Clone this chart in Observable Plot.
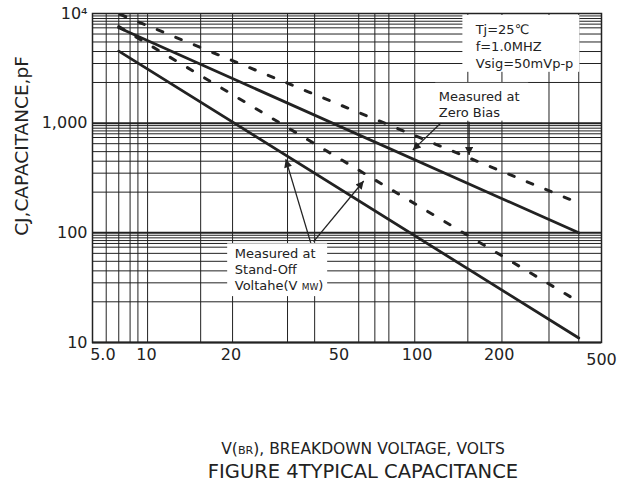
<!DOCTYPE html>
<html><head><meta charset="utf-8">
<script src="https://cdn.jsdelivr.net/npm/d3@7"></script>
<script src="https://cdn.jsdelivr.net/npm/@observablehq/plot@0.6"></script>
<style>
body{margin:0;background:#fff;font-family:"DejaVu Sans",sans-serif;color:#222}
#wrap{position:relative;width:624px;height:485px;overflow:hidden;background:#fff}
.cap{position:absolute;left:363px;transform:translateX(-50%);white-space:nowrap;line-height:1;color:#222}
#cap1{top:441.5px;font-size:15.5px}
#cap2{top:462px;font-size:19.5px}
.sc{font-size:0.72em}
</style></head><body><div id="wrap"></div>
<script>
// ---- axes / grid values ----
const xGridValues = [7, 7.8, 8.6, 9.2, 10, 15.8, 20.8, 33.4, 42.2, 61.7, 70.9, 80, 100, 158, 212, 318, 411];
const yDecadeValues = [10, 100, 1000];
const yMinorMultipliers = [2.35, 3.5, 4.5, 5.5, 6.5, 7.4, 8.0, 8.5, 9.0, 9.5];
const xTickValues = [6.8, 9.9, 20.5, 52, 102, 207];
const xTickLabels = ["5.0", "10", "20", "50", "100", "200"];
const xLastTickValues = [500];
const xLastTickLabels = ["500"];
const yTickValues = [10, 100, 1000, 10000];
const yTickLabels = ["10", "100", "1,000", "10\u2074"];
const yTitle = "CJ,CAPACITANCE,pF";
const xTitleMain = "V(", xTitleSub = "BR", xTitleRest = "), BREAKDOWN VOLTAGE, VOLTS";
const figTitle = "FIGURE 4TYPICAL CAPACITANCE";

// ---- series (breakdown voltage V, capacitance pF) ----
const seriesNames = ["Zero Bias solid", "Zero Bias dashed", "Stand-Off solid", "Stand-Off dashed"];
const seriesDashed = [false, true, false, true];
const seriesV = [[7.8, 411], [7.9, 411], [7.8, 411], [7.8, 411]];
const seriesC = [[7400, 100], [9800, 187], [4540, 11], [7600, 23.5]];

// ---- annotations ----
const noteTexts = ["Tj=25\u2103\nf=1.0MHZ\nVsig=50mVp-p", "Measured at\nZero Bias", "Measured at\nStand-Off\nVoltahe(V MW)"];
const noteV = [169, 123, 21.2];
const noteC = [5117, 1488, 47.1];
const boxV1 = [151.4, 119.8, 19.94];
const boxV2 = [415, 267, 47.2];
const boxC1 = [9590, 2310, 79.4];
const boxC2 = [2908, 1043, 26.2];
const arrowV1 = [40.8, 41.8, 125, 159.7];
const arrowC1 = [81, 83, 1000, 1028];
const arrowV2 = [32.9, 64.4, 98.3, 159.7];
const arrowC2 = [468, 297, 568, 512];

// ---- build tables ----
const rows = seriesNames.flatMap((s, i) => seriesV[i].map((v, j) => ({series: s, dashed: seriesDashed[i], v, c: seriesC[i][j]})));
const yMinor = yDecadeValues.flatMap(d => yMinorMultipliers.map(m => d * m));
const notes = noteTexts.map((t, i) => ({t, v: noteV[i], c: noteC[i]}));
const boxes = boxV1.map((v, i) => ({v1: v, v2: boxV2[i], c1: boxC1[i], c2: boxC2[i]}));
const arrows = arrowV1.map((v, i) => ({v1: v, c1: arrowC1[i], v2: arrowV2[i], c2: arrowC2[i]}));
const xTicks = xTickValues.map((v, i) => ({v, label: xTickLabels[i]}));
const xLastTicks = xLastTickValues.map((v, i) => ({v, label: xLastTickLabels[i]}));
const yTicks = yTickValues.map((c, i) => ({c, label: yTickLabels[i]}));

const ink = "#222";
const svg = Plot.plot({
  width: 624, height: 430,
  marginTop: 13, marginLeft: 92, marginRight: 23, marginBottom: 88,
  style: {fontFamily: "DejaVu Sans", fontSize: "13px", background: "white", color: ink},
  x: {type: "log", domain: [6.22, 500], axis: null},
  y: {type: "log", domain: [10, 10000], axis: null},
  marks: [
    Plot.ruleX(xGridValues, {stroke: ink, strokeWidth: 1}),
    Plot.ruleY(yMinor, {stroke: ink, strokeWidth: 1}),
    Plot.ruleY(yDecadeValues, {stroke: ink, strokeWidth: 2}),
    Plot.rect(boxes, {x1: "v1", x2: "v2", y1: "c1", y2: "c2", fill: "white"}),
    Plot.frame({stroke: ink, strokeWidth: 1.5}),
    Plot.line(rows.filter(d => !d.dashed), {x: "v", y: "c", z: "series", stroke: ink, strokeWidth: 2.8}),
    Plot.line(rows.filter(d => d.dashed), {x: "v", y: "c", z: "series", stroke: ink, strokeWidth: 3, strokeDasharray: "6,14"}),
    Plot.link(arrows, {x1: "v1", y1: "c1", x2: "v2", y2: "c2", stroke: ink, strokeWidth: 1.3}),
    Plot.text(notes.slice(0, 1), {x: "v", y: "c", text: "t", textAnchor: "start", lineAnchor: "middle", lineHeight: 1.31, fontSize: 13, fill: ink}),
    Plot.text(notes.slice(1), {x: "v", y: "c", text: "t", textAnchor: "start", lineAnchor: "middle", lineHeight: 1.23, fontSize: 13, fill: ink}),
    // tick labels
    Plot.text(yTicks, {y: "c", text: "label", frameAnchor: "left", textAnchor: "end", dx: -5, fontSize: 16, fill: ink}),
    Plot.text(xTicks, {x: "v", text: "label", frameAnchor: "bottom", lineAnchor: "top", dy: 6, fontSize: 16, fill: ink}),
    Plot.text(xLastTicks, {x: "v", text: "label", frameAnchor: "bottom", lineAnchor: "top", dy: 11, fontSize: 16, fill: ink}),
    Plot.text([yTitle], {frameAnchor: "left", textAnchor: "middle", text: d => d, rotate: -90, dx: -70, dy: -32, fontSize: 18.5, fill: ink})
  ]
});

// filled arrowheads
const s = d3.select(svg);
s.append("defs").append("marker")
  .attr("id", "ahead").attr("viewBox", "0 0 10 10").attr("refX", 10).attr("refY", 5)
  .attr("markerWidth", 11).attr("markerHeight", 8).attr("markerUnits", "userSpaceOnUse").attr("orient", "auto")
  .append("path").attr("d", "M0,0L10,5L0,10z").attr("fill", ink);
s.selectAll("g[aria-label='link'] path").attr("marker-end", "url(#ahead)");

// small "MW" in the stand-off note
s.selectAll("tspan, text").filter(function() { return this.childNodes.length === 1 && this.textContent === "Voltahe(V MW)"; })
  .each(function() {
    const el = d3.select(this);
    el.text("Voltahe(V ");
    el.append("tspan").attr("font-size", 9).text("MW");
    el.append("tspan").text(")");
  });

const wrap = document.getElementById("wrap");
wrap.appendChild(svg);
const c1 = document.createElement("div");
c1.className = "cap"; c1.id = "cap1";
c1.innerHTML = xTitleMain + '<span class="sc">' + xTitleSub + '</span>' + xTitleRest;
wrap.appendChild(c1);
const c2 = document.createElement("div");
c2.className = "cap"; c2.id = "cap2";
c2.textContent = figTitle;
wrap.appendChild(c2);
</script></body></html>
